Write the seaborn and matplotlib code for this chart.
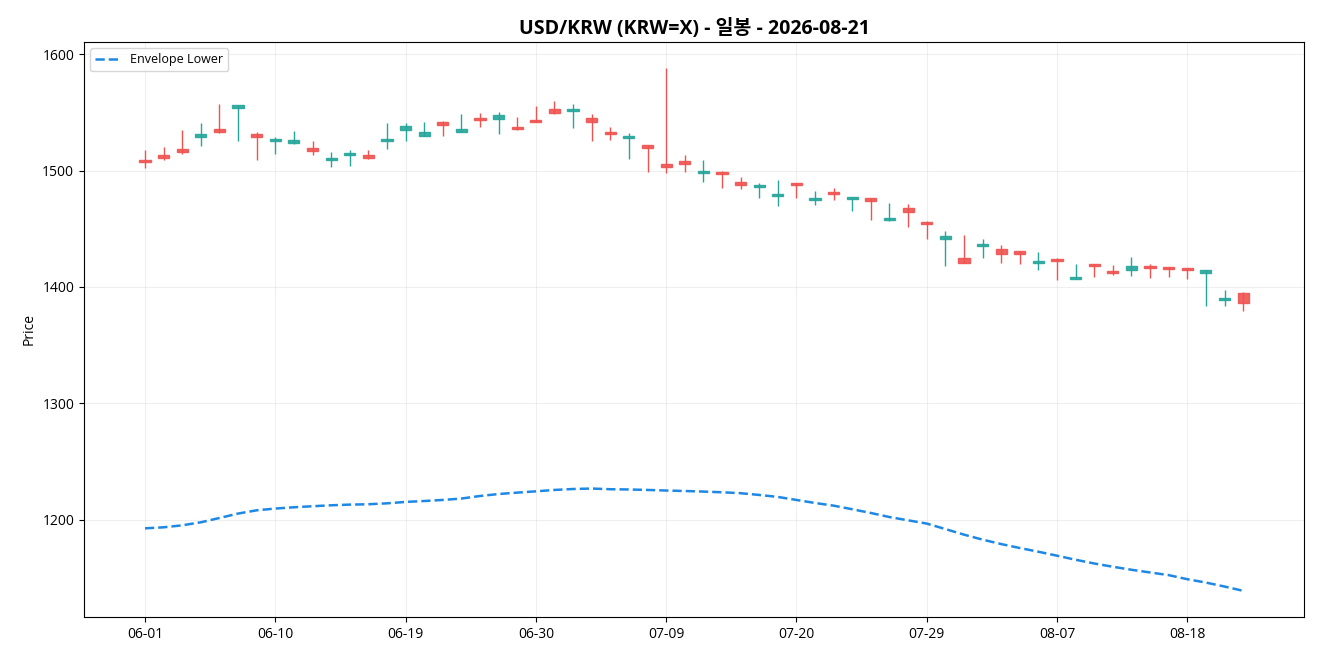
import matplotlib
matplotlib.use("Agg")
import matplotlib.pyplot as plt
import seaborn as sns
import pandas as pd
import numpy as np

# trading days 2026-06-01 .. 2026-08-21
dates = pd.bdate_range("2026-06-01", "2026-08-21").strftime("%m-%d").tolist()

opens = [1507.0, 1511.0, 1516.0, 1531.5, 1533.0, 1556.5, 1529.0, 1527.0, 1526.0, 1517.0,
         1511.0, 1515.0, 1511.0, 1527.0, 1538.6, 1532.9, 1539.5, 1536.1, 1543.0, 1547.3,
         1535.3, 1541.8, 1549.0, 1552.7, 1542.1, 1531.0, 1530.0, 1519.7, 1503.4, 1506.0,
         1499.7, 1497.3, 1487.8, 1487.6, 1480.0, 1487.2, 1476.4, 1479.5, 1477.0, 1474.0,
         1459.3, 1464.7, 1453.7, 1443.3, 1420.8, 1437.0, 1428.6, 1428.6, 1422.2, 1422.5,
         1408.5, 1417.6, 1411.8, 1417.6, 1416.1, 1415.3, 1414.4, 1414.5, 1390.4, 1385.8]
closes = [1509.0, 1513.0, 1518.5, 1529.0, 1535.5, 1554.0, 1531.5, 1525.5, 1524.0, 1519.0,
          1509.0, 1513.5, 1513.5, 1525.0, 1535.2, 1529.7, 1541.3, 1533.5, 1545.0, 1544.4,
          1537.0, 1543.4, 1553.0, 1551.0, 1545.5, 1533.0, 1528.3, 1522.0, 1505.2, 1508.0,
          1497.9, 1499.0, 1489.8, 1485.7, 1478.0, 1489.1, 1474.6, 1481.3, 1475.2, 1476.0,
          1457.5, 1468.1, 1456.1, 1441.3, 1425.1, 1435.0, 1432.9, 1430.8, 1420.4, 1424.3,
          1406.7, 1419.4, 1413.6, 1414.5, 1417.9, 1417.1, 1416.2, 1412.2, 1388.6, 1394.4]
highs = [1518.0, 1520.0, 1535.0, 1541.0, 1557.0, 1556.5, 1533.0, 1529.0, 1534.0, 1525.0,
         1516.0, 1518.0, 1517.5, 1541.0, 1541.0, 1541.5, 1542.5, 1548.5, 1549.5, 1550.0,
         1546.0, 1555.5, 1559.5, 1557.0, 1548.5, 1537.0, 1532.0, 1522.3, 1588.0, 1513.0,
         1509.0, 1499.4, 1494.0, 1489.0, 1491.5, 1489.6, 1482.0, 1485.0, 1477.3, 1476.2,
         1472.0, 1471.0, 1456.3, 1448.0, 1444.3, 1441.0, 1435.7, 1431.0, 1429.7, 1424.5,
         1419.4, 1419.6, 1418.5, 1425.4, 1419.4, 1417.3, 1416.4, 1414.7, 1397.0, 1395.5]
lows = [1502.0, 1509.0, 1514.0, 1521.0, 1532.0, 1525.0, 1509.0, 1514.0, 1523.0, 1513.0,
        1503.0, 1504.0, 1509.5, 1518.5, 1525.0, 1529.5, 1530.0, 1533.3, 1537.5, 1531.0,
        1535.0, 1541.5, 1548.7, 1536.5, 1525.5, 1526.5, 1510.0, 1499.0, 1497.5, 1499.0,
        1490.0, 1485.0, 1484.0, 1476.5, 1469.5, 1476.5, 1470.5, 1474.7, 1465.3, 1457.5,
        1456.6, 1451.4, 1441.0, 1417.6, 1420.8, 1425.0, 1420.5, 1419.6, 1414.5, 1406.0,
        1406.7, 1408.4, 1410.5, 1409.3, 1407.6, 1408.4, 1406.5, 1383.5, 1383.5, 1379.0]
envelope_lower = [1192.5, 1193.4, 1195.1, 1197.7, 1201.4, 1205.2, 1208.0, 1209.5, 1210.6, 1211.5,
                  1212.3, 1212.9, 1213.2, 1214.0, 1215.2, 1216.0, 1216.9, 1218.1, 1220.3, 1222.0,
                  1223.2, 1224.3, 1225.5, 1226.3, 1226.7, 1226.1, 1225.9, 1225.5, 1225.0, 1224.6,
                  1224.1, 1223.5, 1222.7, 1221.2, 1219.5, 1216.9, 1214.3, 1212.0, 1208.9, 1205.7,
                  1202.2, 1199.4, 1196.6, 1191.9, 1187.1, 1182.8, 1179.0, 1175.6, 1172.4, 1169.0,
                  1165.5, 1162.3, 1159.5, 1156.9, 1154.6, 1152.3, 1148.8, 1145.9, 1142.5, 1138.8]

sns.set_style("ticks", {"axes.edgecolor": "black", "text.color": "black",
                        "xtick.color": "black", "ytick.color": "black",
                        "axes.labelcolor": "black"})
plt.rcParams['font.family'] = ['Open Sans', 'Noto Sans CJK KR', 'DejaVu Sans']

df = pd.DataFrame({"idx": np.arange(len(dates)), "date": dates, "open": opens,
                   "high": highs, "low": lows, "close": closes, "env": envelope_lower})
up = df.close >= df.open
colors = np.where(up, "#EF5350", "#26A69A")

fig, ax = plt.subplots(figsize=(13.2, 6.6), dpi=100)
fig.subplots_adjust(left=0.0636, right=0.988, top=0.9364, bottom=0.0652)

# wicks
ax.vlines(df.idx, df.low, df.high, colors=colors, linewidth=1)
# bodies
body_bottom = np.minimum(df.open, df.close)
body_height = np.abs(df.close - df.open)
ax.bar(df.idx, body_height, bottom=body_bottom, width=0.6, color=colors,
       edgecolor=colors, linewidth=1, alpha=0.9)

sns.lineplot(data=df, x="idx", y="env", ax=ax, color="#1E88E5", linestyle="--",
             linewidth=1.8, label="Envelope Lower")

ax.set_xticks(df.idx[::7])
ax.set_xticklabels(df.date[::7])
ax.set_xlabel("")
ax.set_ylabel("Price")
ax.set_title("USD/KRW (KRW=X) - 일봉 - 2026-08-21", fontsize=14, fontweight="bold")
ax.grid(True, alpha=0.3)
ax.legend(loc="upper left", fontsize=9)

plt.savefig("out.png")
